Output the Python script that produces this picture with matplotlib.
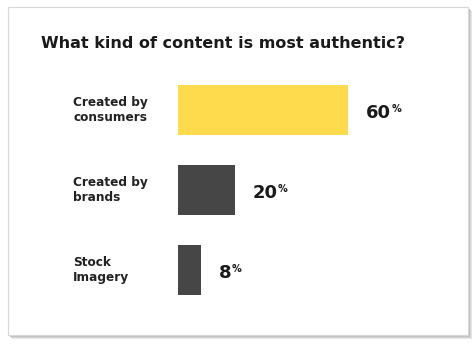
import matplotlib
matplotlib.use("Agg")
import matplotlib.pyplot as plt
from matplotlib.patches import Rectangle
from matplotlib.transforms import blended_transform_factory

title = "What kind of content is most authentic?"
categories = ["Created by\nconsumers", "Created by\nbrands", "Stock\nImagery"]
values = [60, 20, 8]
colors = ["#FDDB4C", "#464646", "#464646"]

W, H = 474, 348
fig = plt.figure(figsize=(W / 100, H / 100), dpi=100)
fig.patch.set_facecolor("white")

# card with soft shadow
def px(x, y, w, h):
    return (x / W, 1 - (y + h) / H, w / W, h / H)

for off, c in [(4, "#e6e6e6"), (3, "#d4d4d4"), (2, "#c2c2c2")]:
    x0, y0, w, h = px(8 + off, 7 + off, 460, 328)
    fig.patches.append(Rectangle((x0, y0), w, h, transform=fig.transFigure,
                                 facecolor=c, edgecolor="none", zorder=0))
x0, y0, w, h = px(8, 7, 460, 328)
fig.patches.append(Rectangle((x0, y0), w, h, transform=fig.transFigure,
                             facecolor="white", edgecolor="#d8d8d8", lw=0.8, zorder=1))

fig.text(41 / W, 1 - 48 / H, title, fontsize=11.55, fontweight="bold",
         family="DejaVu Sans", color="#1a1a1a", va="baseline", ha="left", zorder=5)

ax = fig.add_axes([178 / W, 1 - 310 / H, 292 / W, 240 / H])
ax.set_zorder(5)
ax.set_xlim(0, 292 / 2.83)
ax.set_ylim(2.5, -0.5)
ax.axis("off")

ypos = list(range(len(values)))
bars = ax.barh(ypos, values, height=0.625, color=colors, edgecolor="none")

tr = blended_transform_factory(fig.transFigure, ax.transData)
for y, lab in zip(ypos, categories):
    ax.text(73 / W, y, lab, transform=tr, ha="left", va="center", fontsize=8.7,
            fontweight="bold", family="DejaVu Sans", color="#222222", linespacing=1.15)

fig.canvas.draw()
r = fig.canvas.get_renderer()
for y, v in zip(ypos, values):
    t = ax.text(v + 18 / 2.83, y + 0.106, str(v), ha="left", va="baseline", fontsize=13,
                fontweight="bold", family="DejaVu Sans", color="#1a1a1a")
    bb = t.get_window_extent(renderer=r)
    xe = ax.transData.inverted().transform((bb.x1 + 0.5, 0))[0]
    ax.text(xe, y + 0.03, "%", ha="left", va="baseline", fontsize=7,
            fontweight="bold", family="DejaVu Sans", color="#1a1a1a")

fig.savefig("out.png", dpi=100)
